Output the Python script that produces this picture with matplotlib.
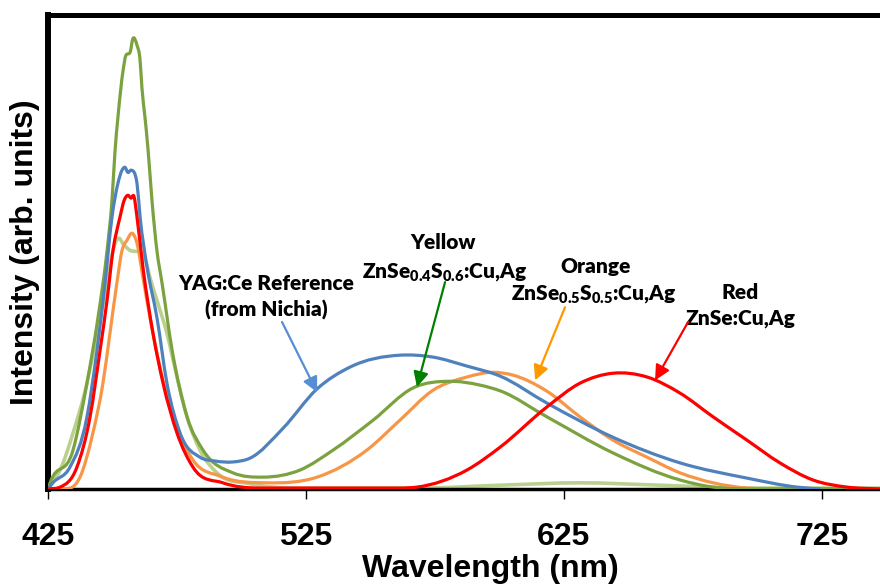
import numpy as np
import matplotlib
matplotlib.use('Agg')
import matplotlib.pyplot as plt
from matplotlib.path import Path
from matplotlib.patches import PathPatch

plt.rcParams['mathtext.fontset'] = 'custom'
plt.rcParams['mathtext.rm'] = 'Lato:heavy'
plt.rcParams['mathtext.it'] = 'Lato:heavy'
plt.rcParams['mathtext.bf'] = 'Lato:heavy'

# emission spectra (wavelength in nm, intensity in arb. units)
wl_green = [425, 425.8, 434.7, 440.1, 444.4, 447.9, 449.8, 451.0, 452.1, 454.1, 455.2, 456.8,
            457.9, 459.5, 460.7, 461.4, 462.6, 463.8, 465.3, 467.2, 469.2, 473.1, 478.9, 485.1,
            496.7, 508.3, 522.7, 535.5, 551.0, 566.5, 580.8, 592.4, 600.2, 618.4, 644.0, 670.0,
            682.8, 700, 747.5]
int_green = [0.0, 0.013, 0.082, 0.223, 0.362, 0.503, 0.608, 0.714, 0.783, 0.882, 0.914, 0.920,
             0.949, 0.935, 0.903, 0.846, 0.783, 0.714, 0.608, 0.503, 0.434, 0.293, 0.152, 0.082,
             0.034, 0.025, 0.040, 0.082, 0.145, 0.213, 0.227, 0.219, 0.207, 0.152, 0.076, 0.019,
             0.004, 0.0, 0.0]

wl_blue = [425, 426.9, 433.5, 440.1, 444.0, 447.1, 449.8, 452.1, 453.7, 454.8, 456.0, 457.2,
           459.5, 460.7, 463.4, 467.2, 471.1, 476.2, 483.9, 489.7, 496.7, 503.3, 516.1, 529.3,
           542.1, 561.4, 574.2, 587.4, 600.2, 618.4, 644.0, 670.0, 695.9, 715.3, 724]
int_blue = [0.0, 0.013, 0.046, 0.152, 0.293, 0.434, 0.573, 0.644, 0.672, 0.678, 0.667, 0.672,
            0.644, 0.573, 0.467, 0.362, 0.223, 0.118, 0.067, 0.059, 0.057, 0.065, 0.128, 0.211,
            0.257, 0.282, 0.278, 0.259, 0.238, 0.181, 0.109, 0.055, 0.023, 0.004, 0.0]

wl_red = [425, 429.7, 436.2, 441.3, 445.2, 447.9, 450.2, 452.9, 454.5, 456.0, 457.2, 458.3,
          459.5, 461.8, 465.7, 469.6, 475.0, 481.2, 492.8, 507.2, 561.4, 568.0, 587.4, 600.2,
          618.4, 631.2, 644.0, 657.2, 670.0, 682.8, 695.9, 708.7, 721.5, 734.7, 747.5]
int_red = [0.0, 0.004, 0.046, 0.152, 0.293, 0.398, 0.503, 0.573, 0.608, 0.619, 0.613, 0.617,
           0.573, 0.467, 0.328, 0.223, 0.118, 0.046, 0.013, 0.002, 0.002, 0.004, 0.040, 0.088,
           0.173, 0.223, 0.244, 0.236, 0.202, 0.152, 0.103, 0.055, 0.019, 0.004, 0.0]

wl_orange = [427.7, 433.5, 437.4, 442.4, 446.3, 449.0, 451.7, 453.7, 455.6, 457.6, 459.5, 461.8,
             464.5, 468.4, 473.4, 481.2, 491.7, 509.9, 529.3, 548.6, 561.4, 574.2, 587.4, 597.5,
             605.2, 618.4, 631.2, 644.0, 657.2, 670.0, 682.8, 695.9, 710]
int_orange = [0.0, 0.002, 0.025, 0.118, 0.223, 0.328, 0.434, 0.503, 0.524, 0.539, 0.518, 0.446,
              0.362, 0.257, 0.152, 0.061, 0.027, 0.013, 0.025, 0.082, 0.145, 0.208, 0.236, 0.246,
              0.240, 0.206, 0.152, 0.103, 0.067, 0.034, 0.013, 0.002, 0.0]

wl_lgreen = [425, 429.7, 434.7, 440.1, 444.0, 447.9, 450.2, 452.1, 454.5, 456.8, 460.7, 463.0,
             464.5, 467.2, 471.1, 475.0, 478.9, 483.9, 490.5, 503.3, 522.7, 569.2, 600.2, 631.2,
             662.2, 697.1, 747.5]
int_lgreen = [0.004, 0.040, 0.118, 0.223, 0.328, 0.434, 0.503, 0.528, 0.514, 0.503, 0.499, 0.478,
              0.446, 0.398, 0.328, 0.236, 0.152, 0.082, 0.034, 0.011, 0.002, 0.002, 0.008, 0.013,
              0.008, 0.002, 0.002]

xticks = [425, 525, 625, 725]


def smooth_line(ax, x, y, color, lw, z):
    # smoothed line like a spreadsheet chart: cubic Bezier segments through the points
    x = np.asarray(x, float)
    y = np.asarray(y, float)
    h = np.diff(x)
    d = np.diff(y) / h
    m = np.zeros_like(y)
    for i in range(1, len(x) - 1):
        slope = (d[i - 1] * h[i] + d[i] * h[i - 1]) / (h[i - 1] + h[i])
        if d[i - 1] * d[i] > 0:
            lim = 3 * min(abs(d[i - 1]), abs(d[i]))
            slope = np.sign(slope) * min(abs(slope), lim)
        elif d[i - 1] * d[i] == 0:
            slope = 0.0
        m[i] = slope
    m[0] = d[0]
    m[-1] = d[-1]
    verts = [(x[0], y[0])]
    codes = [Path.MOVETO]
    for i in range(len(x) - 1):
        verts += [(x[i] + h[i] / 3, y[i] + m[i] * h[i] / 3),
                  (x[i + 1] - h[i] / 3, y[i + 1] - m[i + 1] * h[i] / 3),
                  (x[i + 1], y[i + 1])]
        codes += [Path.CURVE4] * 3
    patch = PathPatch(Path(verts, codes), fill=False, edgecolor=color, lw=lw,
                      capstyle='round', joinstyle='round', zorder=z)
    ax.add_patch(patch)


fig = plt.figure(figsize=(8.8, 5.84), dpi=100)
ax = fig.add_axes([48 / 880, 95 / 584, 884 / 880, 474.5 / 584])

lw = 2.3
smooth_line(ax, wl_lgreen, int_lgreen, '#B9D08F', lw + 0.3, 2)
smooth_line(ax, wl_orange, int_orange, '#F79646', lw, 3)
smooth_line(ax, wl_green, int_green, '#7BA23F', lw, 4)
smooth_line(ax, wl_blue, int_blue, '#4F81BD', lw, 5)
smooth_line(ax, wl_red, int_red, '#FF0000', lw, 6)

ax.set_xlim(425, 425 + 884 / 2.58)
ax.set_ylim(0, 1)
ax.set_xticks(xticks)
ax.set_yticks([])
ax.tick_params(axis='x', direction='out', length=7, width=1, pad=17,
               labelsize=23)
for lab in ax.get_xticklabels():
    lab.set_fontfamily('Liberation Sans')
    lab.set_fontweight('bold')

ax.spines['left'].set_linewidth(4.3)
ax.spines['top'].set_linewidth(3.6)
ax.spines['bottom'].set_linewidth(2.5)
ax.spines['right'].set_visible(False)

ax.set_xlabel('Wavelength (nm)', fontsize=23, fontweight='bold',
              family='Liberation Sans', labelpad=1)
ax.set_ylabel('Intensity (arb. units)', fontsize=23, fontweight='bold',
              family='Liberation Sans', labelpad=6)

tfont = dict(family='Lato', fontweight='heavy', fontsize=15, ha='center', va='center')
ax.text(509.5, 0.434, 'YAG:Ce Reference', **tfont)
ax.text(509.5, 0.377, '(from Nichia)', **tfont)
ax.text(578.1, 0.520, 'Yellow', **tfont)
ax.text(578.9, 0.457, r'ZnSe$_{0.4}$S$_{0.6}$:Cu,Ag', **tfont)
ax.text(637.4, 0.469, 'Orange', **tfont)
ax.text(636.6, 0.411, r'ZnSe$_{0.5}$S$_{0.5}$:Cu,Ag', **tfont)
ax.text(693.2, 0.415, 'Red', **tfont)
ax.text(693.6, 0.360, 'ZnSe:Cu,Ag', **tfont)

arrows = [((515.7, 0.352), (529.3, 0.204), '#558ED5'),
          ((578.9, 0.436), (568.0, 0.215), '#008000'),
          ((625.4, 0.383), (613.8, 0.229), '#FF9900'),
          ((673.1, 0.352), (660.3, 0.229), '#FF0000')]
for start, tip, c in arrows:
    ax.annotate('', xy=tip, xytext=start, zorder=8,
                arrowprops=dict(arrowstyle='-|>,head_length=0.9,head_width=0.45',
                                color=c, lw=1.6, shrinkA=0, shrinkB=0))

fig.savefig('out.png', dpi=100)
